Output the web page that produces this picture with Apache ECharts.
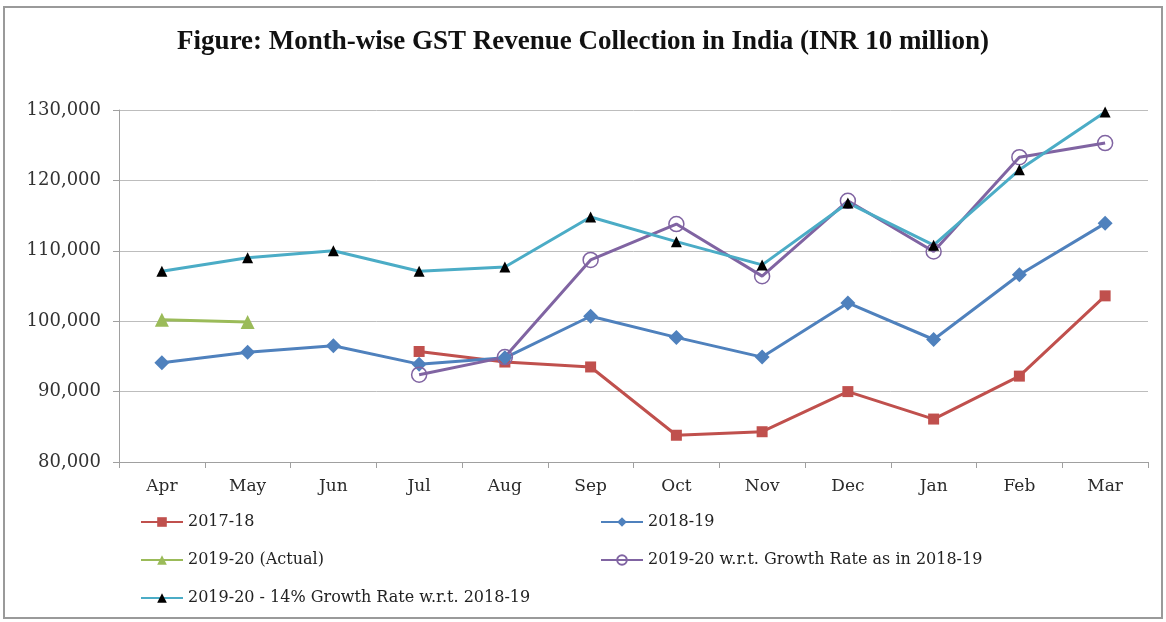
<!DOCTYPE html>
<html>
<head>
<meta charset="utf-8">
<script src="https://cdn.jsdelivr.net/npm/echarts@6/dist/echarts.min.js"></script>
<style>
  html, body { margin: 0; padding: 0; background: #fff; }
  #main { width: 1166px; height: 622px; }
</style>
</head>
<body>
<div id="main"></div>
<script>
// months on the x axis
const months = ["Apr", "May", "Jun", "Jul", "Aug", "Sep", "Oct", "Nov", "Dec", "Jan", "Feb", "Mar"];

// values (INR 10 million)
const fy1718 = [null, null, null, 95700, 94200, 93500, 83800, 84300, 90000, 86100, 92200, 103600];
const fy1819 = [94100, 95600, 96500, 93900, 94800, 100700, 97700, 94900, 102600, 97400, 106600, 113900];
const fy1920Actual = [100200, 99900, null, null, null, null, null, null, null, null, null, null];
const fy1920GrowthRate = [null, null, null, 92400, 94900, 108700, 113800, 106400, 117100, 109900, 123300, 125300];
const fy1920Growth14 = [107100, 109000, 110000, 107100, 107700, 114800, 111300, 108000, 116800, 110800, 121500, 129700];

const yTicks = { min: 80000, max: 130000, step: 10000 };

const serifFont = "DejaVu Serif";

const myChart = echarts.init(document.getElementById("main"));

function legendAt(name, left, top) {
  return {
    data: [name],
    left: left,
    top: top,
    padding: 0,
    itemWidth: 42,
    itemHeight: 12,
    textStyle: { fontFamily: serifFont, fontSize: 16, color: "#222" }
  };
}

const option = {
  backgroundColor: "#fff",
  animation: false,
  title: {
    text: "Figure: Month-wise GST Revenue Collection in India (INR 10 million)",
    left: "center",
    top: 24,
    textStyle: {
      fontFamily: "Liberation Serif",
      fontWeight: "bold",
      fontSize: 27,
      color: "#111"
    }
  },
  graphic: [
    {
      type: "rect",
      shape: { x: 4, y: 7, width: 1158, height: 611 },
      style: { fill: "none", stroke: "#9a9a9a", lineWidth: 2 },
      silent: true
    }
  ],
  legend: [
    legendAt("2017-18", 140, 514),
    legendAt("2018-19", 600, 514),
    legendAt("2019-20 (Actual)", 140, 552),
    legendAt("2019-20 w.r.t. Growth Rate as in 2018-19", 600, 552),
    legendAt("2019-20 - 14% Growth Rate w.r.t. 2018-19", 140, 590)
  ],
  grid: { left: 119, right: 18, top: 110, bottom: 160 },
  xAxis: {
    type: "category",
    data: months,
    boundaryGap: true,
    axisLine: { lineStyle: { color: "#a0a0a0", width: 1 } },
    axisTick: { show: true, length: 6, lineStyle: { color: "#a0a0a0" } },
    axisLabel: {
      fontFamily: serifFont,
      fontSize: 17,
      color: "#2a2a2a",
      margin: 16
    }
  },
  yAxis: {
    type: "value",
    min: yTicks.min,
    max: yTicks.max,
    interval: yTicks.step,
    axisLine: { show: true, lineStyle: { color: "#a0a0a0" } },
    axisTick: { show: true, length: 6, lineStyle: { color: "#a0a0a0" } },
    splitLine: { lineStyle: { color: "#bdbdbd", width: 1 } },
    axisLabel: {
      fontFamily: serifFont,
      fontSize: 18,
      color: "#333",
      margin: 18,
      formatter: v => v.toLocaleString("en-US")
    }
  },
  series: [
    {
      name: "2017-18",
      type: "line",
      data: fy1718,
      symbol: "rect",
      symbolSize: 11,
      lineStyle: { color: "#c0504d", width: 3 },
      itemStyle: { color: "#c0504d" }
    },
    {
      name: "2018-19",
      type: "line",
      data: fy1819,
      symbol: "diamond",
      symbolSize: 15,
      lineStyle: { color: "#4f81bd", width: 3 },
      itemStyle: { color: "#4f81bd" }
    },
    {
      name: "2019-20 (Actual)",
      type: "line",
      data: fy1920Actual,
      symbol: "triangle",
      symbolSize: 14,
      lineStyle: { color: "#9bbb59", width: 3 },
      itemStyle: { color: "#9bbb59" }
    },
    {
      name: "2019-20 w.r.t. Growth Rate as in 2018-19",
      type: "line",
      data: fy1920GrowthRate,
      symbol: "circle",
      symbolSize: 15,
      lineStyle: { color: "#8064a2", width: 3 },
      itemStyle: { color: "rgba(255,255,255,0)", borderColor: "#8064a2", borderWidth: 1.5 }
    },
    {
      name: "2019-20 - 14% Growth Rate w.r.t. 2018-19",
      type: "line",
      data: fy1920Growth14,
      symbol: "triangle",
      symbolSize: 11,
      lineStyle: { color: "#4bacc6", width: 3 },
      itemStyle: { color: "#000" }
    }
  ]
};

myChart.setOption(option);
window.addEventListener("resize", () => {
  myChart.resize();
});
</script>
</body>
</html>
